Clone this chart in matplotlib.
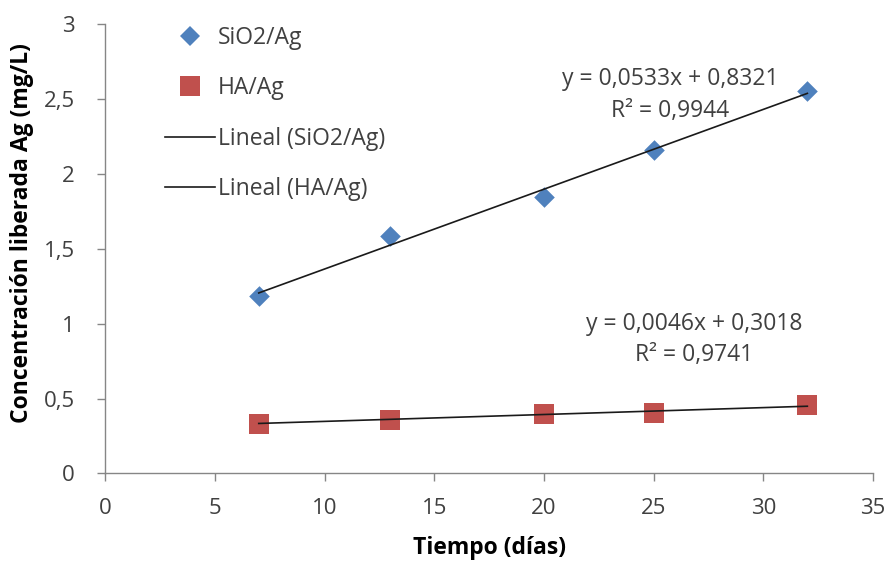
import matplotlib.pyplot as plt
from matplotlib.lines import Line2D
from matplotlib.ticker import FuncFormatter

plt.rcParams['font.family'] = ['Open Sans', 'DejaVu Sans']

# datos de liberación
dias = [7, 13, 20, 25, 32]
sio2_ag = [1.185, 1.585, 1.848, 2.160, 2.553]
ha_ag = [0.328, 0.357, 0.395, 0.406, 0.457]

# ajustes lineales (pendiente, ordenada, R2)
fit_sio2 = (0.0533, 0.8321, 0.9944)
fit_ha = (0.0046, 0.3018, 0.9741)

AZUL = '#4F81BD'
ROJO = '#C0504D'
GRIS = '#404040'
EJE = '#868686'

fig = plt.figure(figsize=(8.91, 5.61), dpi=100)
ax = fig.add_axes([0.118, 0.156, 0.862, 0.801])

ax.scatter(dias, sio2_ag, marker='D', s=110, color=AZUL, zorder=3, linewidths=0)
ax.scatter(dias, ha_ag, marker='s', s=200, color=ROJO, zorder=3, linewidths=0)

x0, x1 = dias[0], dias[-1]
for m, b, _ in (fit_sio2, fit_ha):
    ax.plot([x0, x1], [m * x0 + b, m * x1 + b], color='#1a1a1a', lw=1.2, zorder=4)


def coma(v, pos=None):
    s = f'{v:g}'
    return s.replace('.', ',')


def etiqueta(fit):
    m, b, r2 = fit
    return f'y = {coma(m)}x + {coma(b)}\nR² = {coma(r2)}'


ax.text(25.76, 2.527, etiqueta(fit_sio2), ha='center', va='center',
        fontsize=16.5, color=GRIS, linespacing=1.4)
ax.text(26.85, 0.895, etiqueta(fit_ha), ha='center', va='center',
        fontsize=16.5, color=GRIS, linespacing=1.4)

ax.set_xlim(0, 35)
ax.set_ylim(0, 3)
ax.set_xticks(range(0, 36, 5))
ax.set_yticks([0, 0.5, 1, 1.5, 2, 2.5, 3])
ax.yaxis.set_major_formatter(FuncFormatter(coma))

for lado in ('top', 'right'):
    ax.spines[lado].set_visible(False)
for lado in ('left', 'bottom'):
    ax.spines[lado].set_color(EJE)
    ax.spines[lado].set_linewidth(1.0)
ax.tick_params(direction='out', length=6, width=1.0, color=EJE,
               labelsize=16, labelcolor=GRIS)
ax.tick_params(axis='y', pad=16)
ax.tick_params(axis='x', pad=12)

ax.set_xlabel('Tiempo (días)', fontsize=16.5, fontweight='bold', color='black')
ax.set_ylabel('Concentración liberada Ag (mg/L)', fontsize=16.5, fontweight='bold',
              color='black')
ax.xaxis.set_label_coords(0.5, -0.14)
ax.yaxis.set_label_coords(-0.093, 0.535)

handles = [
    Line2D([], [], marker='D', color=AZUL, ls='none', markersize=10, markeredgewidth=0),
    Line2D([], [], marker='s', color=ROJO, ls='none', markersize=14, markeredgewidth=0),
    Line2D([], [], color='#1a1a1a', lw=1.2),
    Line2D([], [], color='#1a1a1a', lw=1.2),
]
labels = ['SiO2/Ag', 'HA/Ag', 'Lineal (SiO2/Ag)', 'Lineal (HA/Ag)']
leg = ax.legend(handles, labels, loc='upper left', bbox_to_anchor=(0.066, 1.016),
                frameon=False, fontsize=16.5, handlelength=2.2, handletextpad=0.12,
                labelspacing=1.15, borderaxespad=0)
for t in leg.get_texts():
    t.set_color(GRIS)

fig.savefig('out.png', dpi=100)
